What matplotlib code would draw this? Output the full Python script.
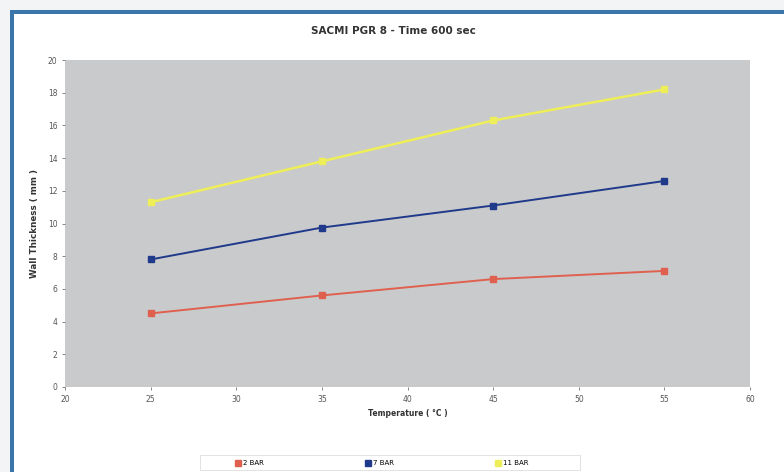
import matplotlib.pyplot as plt
from matplotlib.patches import Rectangle

# wall thickness vs. temperature for three pressures
temperature = [25, 35, 45, 55]
bar_2 = [4.5, 5.6, 6.6, 7.1]
bar_7 = [7.8, 9.75, 11.1, 12.6]
bar_11 = [11.3, 13.8, 16.3, 18.2]
series_names = ['2 BAR', '7 BAR', '11 BAR']

W, H = 784, 472
fig = plt.figure(figsize=(W / 100, H / 100), dpi=100)
fig.patch.set_facecolor('#f3f4f5')

# blue window frame and white page
fig.add_artist(Rectangle((10 / W, -0.1), 1.1, (H - 10) / H + 0.1,
                         transform=fig.transFigure, facecolor='#3b76aa',
                         edgecolor='none', zorder=-2))
fig.add_artist(Rectangle((14 / W, -0.1), 1.1, (H - 14) / H + 0.1,
                         transform=fig.transFigure, facecolor='white',
                         edgecolor='none', zorder=-1))

ax = fig.add_axes([65 / W, 1 - 387 / H, 685 / W, 327 / H])
ax.set_facecolor('#c9cacc')

ax.plot(temperature, bar_2, color='#e0604f', lw=1.4, marker='s', ms=4,
        label=series_names[0])
ax.plot(temperature, bar_7, color='#1f3a8a', lw=1.4, marker='s', ms=4,
        label=series_names[1])
ax.plot(temperature, bar_11, color='#eeee58', lw=1.8, marker='s', ms=4.5,
        label=series_names[2])

ax.set_xlim(20, 60)
ax.set_ylim(0, 20)
ax.set_xticks(range(20, 61, 5))
ax.set_yticks(range(0, 21, 2))
ax.tick_params(labelsize=5.5, colors='#555555', length=2, width=0.5)
for s in ax.spines.values():
    s.set_visible(False)

ax.set_xlabel('Temperature ( °C )', fontsize=5.5, fontweight='bold',
              color='#333333', labelpad=4)
ax.set_ylabel('Wall Thickness ( mm )', fontsize=6.3, fontweight='bold',
              color='#333333', labelpad=6)
fig.text(393 / W, 1 - 31 / H, 'SACMI PGR 8 - Time 600 sec', ha='center',
         va='center', fontsize=7.5, fontweight='bold', color='#333333')

# legend strip below the plot
fig.add_artist(Rectangle((200 / W, 1 - 470 / H), 380 / W, 15 / H,
                         transform=fig.transFigure, facecolor='white',
                         edgecolor='#dddddd', lw=0.6))
leg = fig.legend(loc='center', bbox_to_anchor=(382 / W, 1 - 463 / H), ncol=3,
                 fontsize=5, frameon=False, handlelength=0.8,
                 handletextpad=0.4, columnspacing=14.5, borderaxespad=0)
for line in leg.get_lines():
    line.set_linestyle('none')

fig.savefig('out.png', dpi=100)
